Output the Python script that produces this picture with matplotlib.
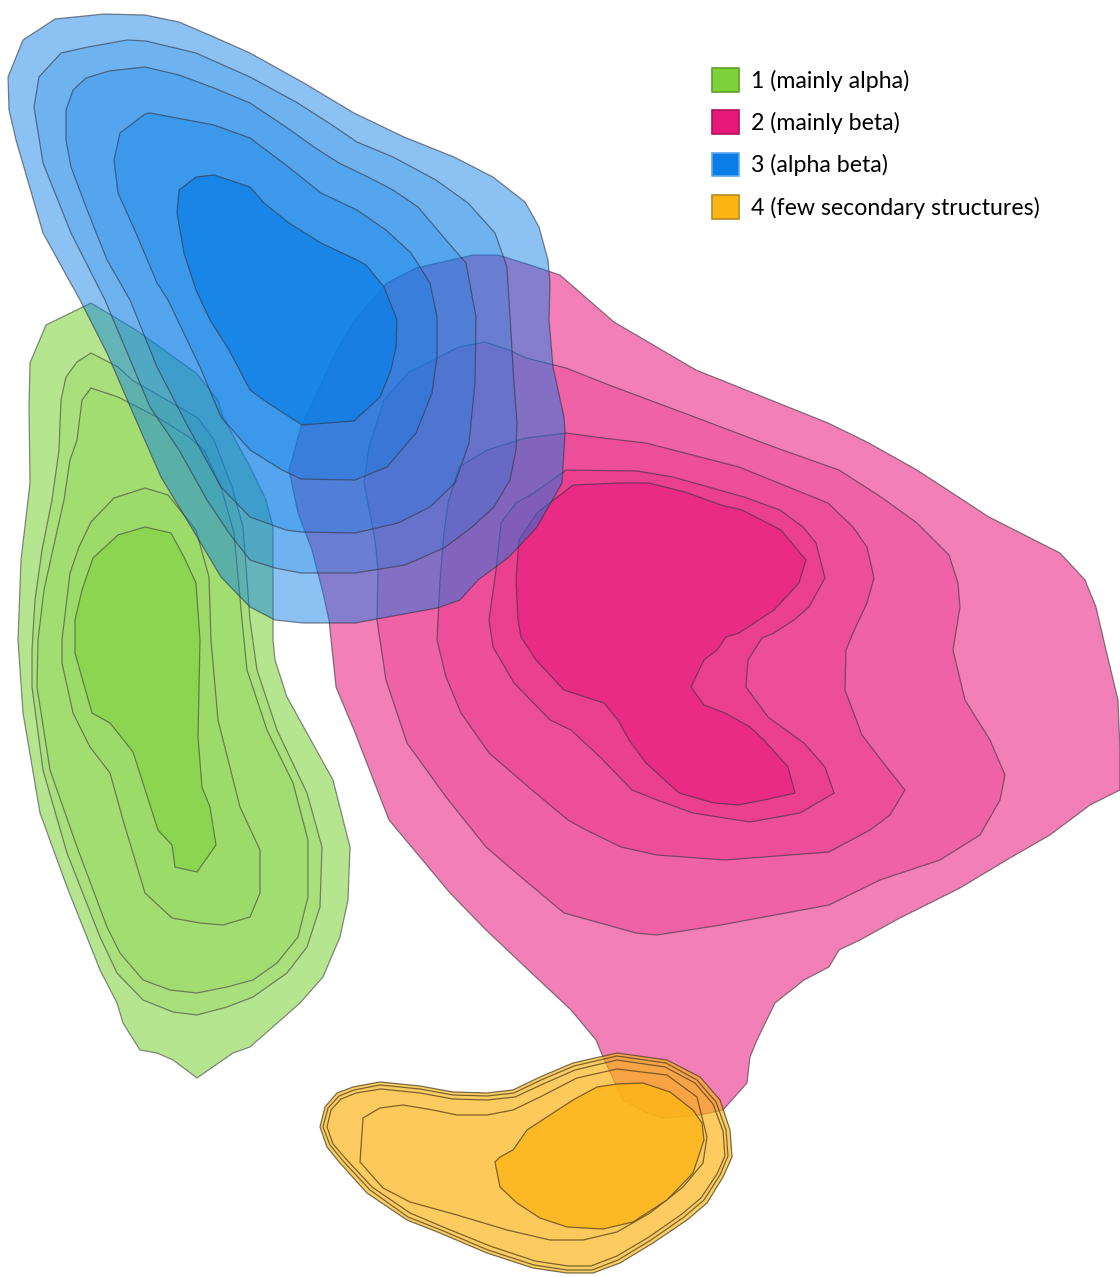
#!/usr/bin/env python
"""
Density contours of the four structural classes in the embedding space.
"""
import matplotlib.pyplot as plt
from matplotlib.colors import to_rgba
from matplotlib.patches import Patch

# contour outlines (embedding units), outermost level first
alpha_beta_1 = [(23, 40), (55, 19), (104, 14), (145, 15), (179, 22), (214, 37), (250, 53), (304, 83),
                (354, 113), (404, 137), (454, 157), (493, 177), (525, 202), (539, 227), (548, 260),
                (550, 283), (549, 320), (553, 367), (564, 417), (565, 433), (562, 483), (537, 527),
                (509, 557), (478, 580), (460, 600), (437, 608), (355, 623), (303, 623), (275, 620),
                (250, 607), (221, 577), (193, 530), (161, 477), (136, 420), (107, 353), (80, 300),
                (43, 233), (16, 140), (9, 110), (8, 77)]
alpha_beta_2 = [(61, 53), (88, 47), (127, 40), (146, 41), (196, 53), (250, 77), (296, 102), (329, 123),
                (357, 142), (393, 157), (436, 180), (468, 203), (495, 233), (507, 267), (510, 317),
                (514, 383), (517, 423), (516, 450), (510, 480), (494, 507), (471, 528), (444, 548),
                (405, 565), (355, 573), (301, 573), (275, 568), (250, 560), (229, 533), (207, 500),
                (179, 450), (150, 407), (105, 300), (71, 233), (43, 163), (34, 107), (39, 77)]
alpha_beta_3 = [(73, 90), (86, 78), (109, 71), (145, 67), (179, 75), (214, 88), (250, 103), (286, 127),
                (314, 147), (339, 163), (368, 177), (393, 190), (418, 207), (446, 240), (466, 263),
                (476, 317), (475, 383), (469, 443), (455, 483), (430, 507), (398, 523), (355, 533),
                (301, 532), (286, 530), (250, 517), (221, 487), (186, 423), (157, 367), (130, 300),
                (107, 260), (86, 207), (71, 167), (66, 140), (66, 110)]
alpha_beta_4 = [(120, 133), (145, 114), (150, 113), (214, 125), (250, 138), (286, 165), (321, 193),
                (357, 210), (386, 230), (411, 253), (430, 283), (437, 317), (437, 357), (432, 393),
                (416, 433), (387, 467), (355, 480), (301, 479), (282, 470), (250, 450), (221, 417),
                (200, 367), (168, 300), (157, 283), (136, 233), (118, 193), (114, 160)]
alpha_beta_5 = [(179, 190), (196, 177), (214, 175), (229, 180), (250, 187), (264, 203), (289, 223),
                (321, 243), (357, 260), (366, 265), (384, 287), (397, 320), (396, 347), (391, 370),
                (380, 397), (354, 421), (302, 425), (268, 403), (250, 390), (229, 350), (210, 320),
                (196, 290), (184, 253), (177, 213)]

alpha_1 = [(46, 325), (91, 303), (136, 330), (196, 373), (218, 400), (223, 417), (250, 467), (266, 500),
           (273, 527), (273, 640), (275, 660), (287, 697), (333, 780), (350, 847), (348, 900), (340, 937),
           (323, 977), (300, 1003), (283, 1018), (250, 1047), (233, 1053), (197, 1078), (173, 1060),
           (157, 1053), (140, 1050), (123, 1023), (117, 1003), (100, 970), (67, 887), (40, 813),
           (23, 713), (18, 640), (21, 560), (30, 483), (29, 407), (30, 363)]
alpha_2 = [(77, 362), (91, 353), (118, 367), (132, 380), (198, 418), (214, 440), (232, 487), (243, 527),
           (250, 620), (257, 670), (277, 730), (307, 793), (322, 847), (320, 907), (307, 947), (287, 973),
           (253, 997), (227, 1007), (197, 1015), (173, 1012), (143, 1000), (117, 973), (100, 937),
           (67, 853), (43, 770), (32, 687), (32, 650), (35, 600), (42, 550), (52, 500), (59, 450),
           (61, 400), (66, 377)]
alpha_3 = [(82, 400), (91, 388), (118, 397), (157, 417), (189, 437), (204, 450), (221, 487), (234, 533),
           (242, 620), (247, 670), (267, 730), (293, 783), (308, 840), (308, 897), (298, 937), (277, 963),
           (253, 980), (227, 987), (197, 993), (170, 990), (143, 980), (120, 953), (107, 927), (77, 847),
           (50, 770), (37, 687), (38, 640), (44, 590), (55, 540), (64, 500), (70, 460), (77, 440)]
alpha_4 = [(91, 522), (114, 498), (145, 488), (168, 495), (196, 530), (209, 577), (211, 640), (218, 720),
           (240, 807), (260, 850), (260, 893), (250, 917), (223, 925), (200, 923), (172, 918), (145, 893),
           (123, 820), (110, 773), (90, 747), (73, 713), (62, 663), (62, 640), (70, 573), (79, 547)]
alpha_5 = [(93, 558), (118, 535), (145, 527), (171, 533), (184, 557), (196, 583), (200, 640), (198, 737),
           (202, 787), (210, 807), (216, 845), (197, 872), (175, 867), (172, 845), (158, 830), (133, 752),
           (110, 723), (92, 713), (75, 653), (75, 620), (82, 590)]

beta_1 = [(355, 320), (387, 283), (416, 268), (473, 255), (498, 255), (530, 265), (560, 275), (614, 322),
          (696, 370), (721, 380), (828, 423), (867, 442), (917, 470), (989, 517), (1060, 553), (1085, 580),
          (1096, 607), (1106, 650), (1118, 700), (1120, 750), (1120, 790), (1090, 805), (1050, 835),
          (1010, 858), (960, 888), (900, 918), (860, 940), (839, 950), (829, 967), (804, 980), (775, 1003),
          (757, 1040), (750, 1057), (747, 1083), (723, 1110), (700, 1115), (663, 1118), (647, 1113),
          (623, 1100), (603, 1057), (596, 1040), (571, 1010), (539, 980), (486, 930), (450, 893),
          (389, 820), (354, 730), (336, 687), (329, 620), (323, 593), (312, 550), (298, 513), (289, 470),
          (301, 427), (337, 350)]
beta_2 = [(364, 483), (369, 447), (384, 400), (409, 372), (459, 347), (485, 342), (509, 350), (526, 358),
          (566, 368), (609, 385), (684, 413), (774, 447), (839, 470), (881, 497), (917, 523), (949, 555),
          (958, 583), (960, 607), (953, 650), (965, 700), (990, 740), (1005, 775), (1000, 800), (980, 835),
          (940, 860), (880, 880), (829, 905), (764, 917), (721, 925), (657, 935), (636, 933), (564, 913),
          (521, 877), (486, 847), (446, 797), (407, 743), (386, 680), (377, 620), (378, 570), (375, 540)]
beta_3 = [(459, 467), (487, 450), (526, 438), (566, 433), (603, 438), (646, 443), (739, 467), (828, 503),
          (853, 527), (867, 547), (874, 578), (867, 603), (853, 633), (846, 650), (845, 690), (862, 735),
          (885, 765), (905, 790), (890, 815), (870, 830), (829, 852), (764, 857), (725, 860), (657, 855),
          (621, 847), (586, 830), (568, 820), (532, 790), (489, 753), (461, 713), (446, 677), (437, 640),
          (440, 580), (444, 533), (448, 503)]
beta_4 = [(501, 523), (516, 503), (534, 493), (566, 470), (637, 471), (673, 477), (744, 497), (780, 510),
          (803, 527), (816, 543), (825, 578), (809, 607), (794, 620), (774, 633), (762, 638), (748, 660),
          (746, 687), (768, 717), (804, 743), (825, 767), (834, 793), (800, 813), (750, 822), (693, 813),
          (657, 800), (632, 790), (600, 757), (571, 730), (550, 720), (514, 683), (493, 647), (489, 620),
          (496, 570)]
beta_5 = [(519, 540), (537, 513), (573, 485), (619, 483), (649, 483), (685, 492), (721, 505), (742, 510),
          (781, 530), (806, 560), (799, 583), (774, 610), (739, 633), (726, 637), (717, 650), (704, 660),
          (691, 687), (704, 705), (725, 713), (750, 727), (764, 740), (788, 767), (795, 793), (764, 800),
          (738, 805), (714, 803), (679, 793), (646, 763), (629, 740), (618, 720), (604, 703), (564, 690),
          (536, 660), (521, 637), (518, 620), (516, 580)]

few_ss_1 = [(320, 1127), (325, 1107), (337, 1093), (353, 1087), (380, 1082), (420, 1086), (453, 1092),
            (487, 1093), (513, 1090), (540, 1077), (573, 1063), (617, 1053), (667, 1060), (700, 1077),
            (720, 1100), (730, 1130), (732, 1157), (723, 1177), (707, 1203), (687, 1220), (653, 1243),
            (620, 1263), (593, 1273), (567, 1273), (533, 1268), (487, 1253), (440, 1233), (407, 1220),
            (367, 1193), (340, 1163), (327, 1147)]
few_ss_2 = [(323, 1127), (328, 1108), (339, 1096), (354, 1090), (380, 1085), (420, 1089), (453, 1095),
            (487, 1096), (514, 1093), (541, 1080), (574, 1066), (617, 1056), (666, 1063), (697, 1080),
            (716, 1102), (726, 1130), (728, 1156), (720, 1175), (704, 1200), (684, 1217), (651, 1240),
            (618, 1260), (592, 1270), (567, 1270), (534, 1265), (488, 1250), (441, 1230), (408, 1217),
            (370, 1190), (343, 1161), (330, 1145)]
few_ss_3 = [(327, 1127), (331, 1110), (341, 1099), (356, 1093), (381, 1089), (420, 1093), (453, 1099),
            (487, 1100), (515, 1097), (543, 1084), (575, 1070), (617, 1060), (665, 1067), (695, 1083),
            (713, 1104), (723, 1131), (725, 1156), (717, 1174), (701, 1198), (682, 1214), (649, 1237),
            (617, 1256), (591, 1266), (568, 1266), (535, 1261), (490, 1246), (443, 1227), (410, 1213),
            (372, 1187), (346, 1159), (333, 1144)]
few_ss_4 = [(363, 1118), (380, 1108), (403, 1105), (433, 1110), (457, 1115), (487, 1115), (513, 1110),
            (540, 1097), (577, 1078), (617, 1069), (667, 1075), (697, 1097), (707, 1137), (703, 1163),
            (683, 1187), (650, 1213), (617, 1232), (583, 1240), (550, 1240), (507, 1230), (457, 1215),
            (410, 1202), (383, 1188), (360, 1162)]
few_ss_5 = [(495, 1162), (500, 1187), (517, 1203), (540, 1218), (567, 1227), (603, 1229), (633, 1222),
            (667, 1200), (693, 1173), (704, 1140), (702, 1123), (693, 1110), (670, 1092), (643, 1083),
            (617, 1084), (597, 1087), (573, 1100), (553, 1113), (527, 1130), (513, 1150), (500, 1157)]

labels = ['1 (mainly alpha)', '2 (mainly beta)', '3 (alpha beta)', '4 (few secondary structures)']
colors = ['#7ed13a', '#e8177a', '#0a7ee6', '#fdb515']
legend_edges = ['#5f9e2c', '#b0125d', '#5aa8f0', '#b88a20']

# opacity added by each successive level
level_alpha = {
    0: [0.56, 0.23, 0.16, 0.14, 0.53],
    1: [0.55, 0.27, 0.26, 0.26, 0.49],
    2: [0.47, 0.22, 0.25, 0.32, 0.69],
    3: [0.64, 0.06, 0.06, 0.06, 0.77],
}
levels = {
    0: [alpha_1, alpha_2, alpha_3, alpha_4, alpha_5],
    1: [beta_1, beta_2, beta_3, beta_4, beta_5],
    2: [alpha_beta_1, alpha_beta_2, alpha_beta_3, alpha_beta_4, alpha_beta_5],
    3: [few_ss_1, few_ss_2, few_ss_3, few_ss_4, few_ss_5],
}
draw_order = [1, 3, 0, 2]
edge_rgba = {0: (0.25, 0.25, 0.25, 0.6), 1: (0.2, 0.2, 0.25, 0.6),
             2: (0.2, 0.2, 0.25, 0.6), 3: (0.3, 0.25, 0.1, 0.75)}

fig = plt.figure(figsize=(11.2, 12.77), dpi=100)
ax = fig.add_axes([0, 0, 1, 1])

for k in draw_order:
    for poly, a in zip(levels[k], level_alpha[k]):
        xs = [p[0] for p in poly]
        ys = [p[1] for p in poly]
        ax.fill(xs, ys, facecolor=to_rgba(colors[k], a), lw=0)
        ax.fill(xs, ys, facecolor='none', edgecolor=edge_rgba[k], lw=0.9)

ax.set_xlim(0, 1120)
ax.set_ylim(1277, 0)
ax.axis('off')

handles = [Patch(facecolor=c, edgecolor=e, lw=1.2) for c, e in zip(colors, legend_edges)]
ax.legend(handles, labels, loc='upper left', bbox_to_anchor=(0.627, 0.954), frameon=False,
          prop={'family': 'Lato', 'size': 16.7}, handlelength=1.2, handleheight=1.2,
          handletextpad=0.5, labelspacing=0.8, borderaxespad=0)

plt.savefig('out.png', dpi=100)
